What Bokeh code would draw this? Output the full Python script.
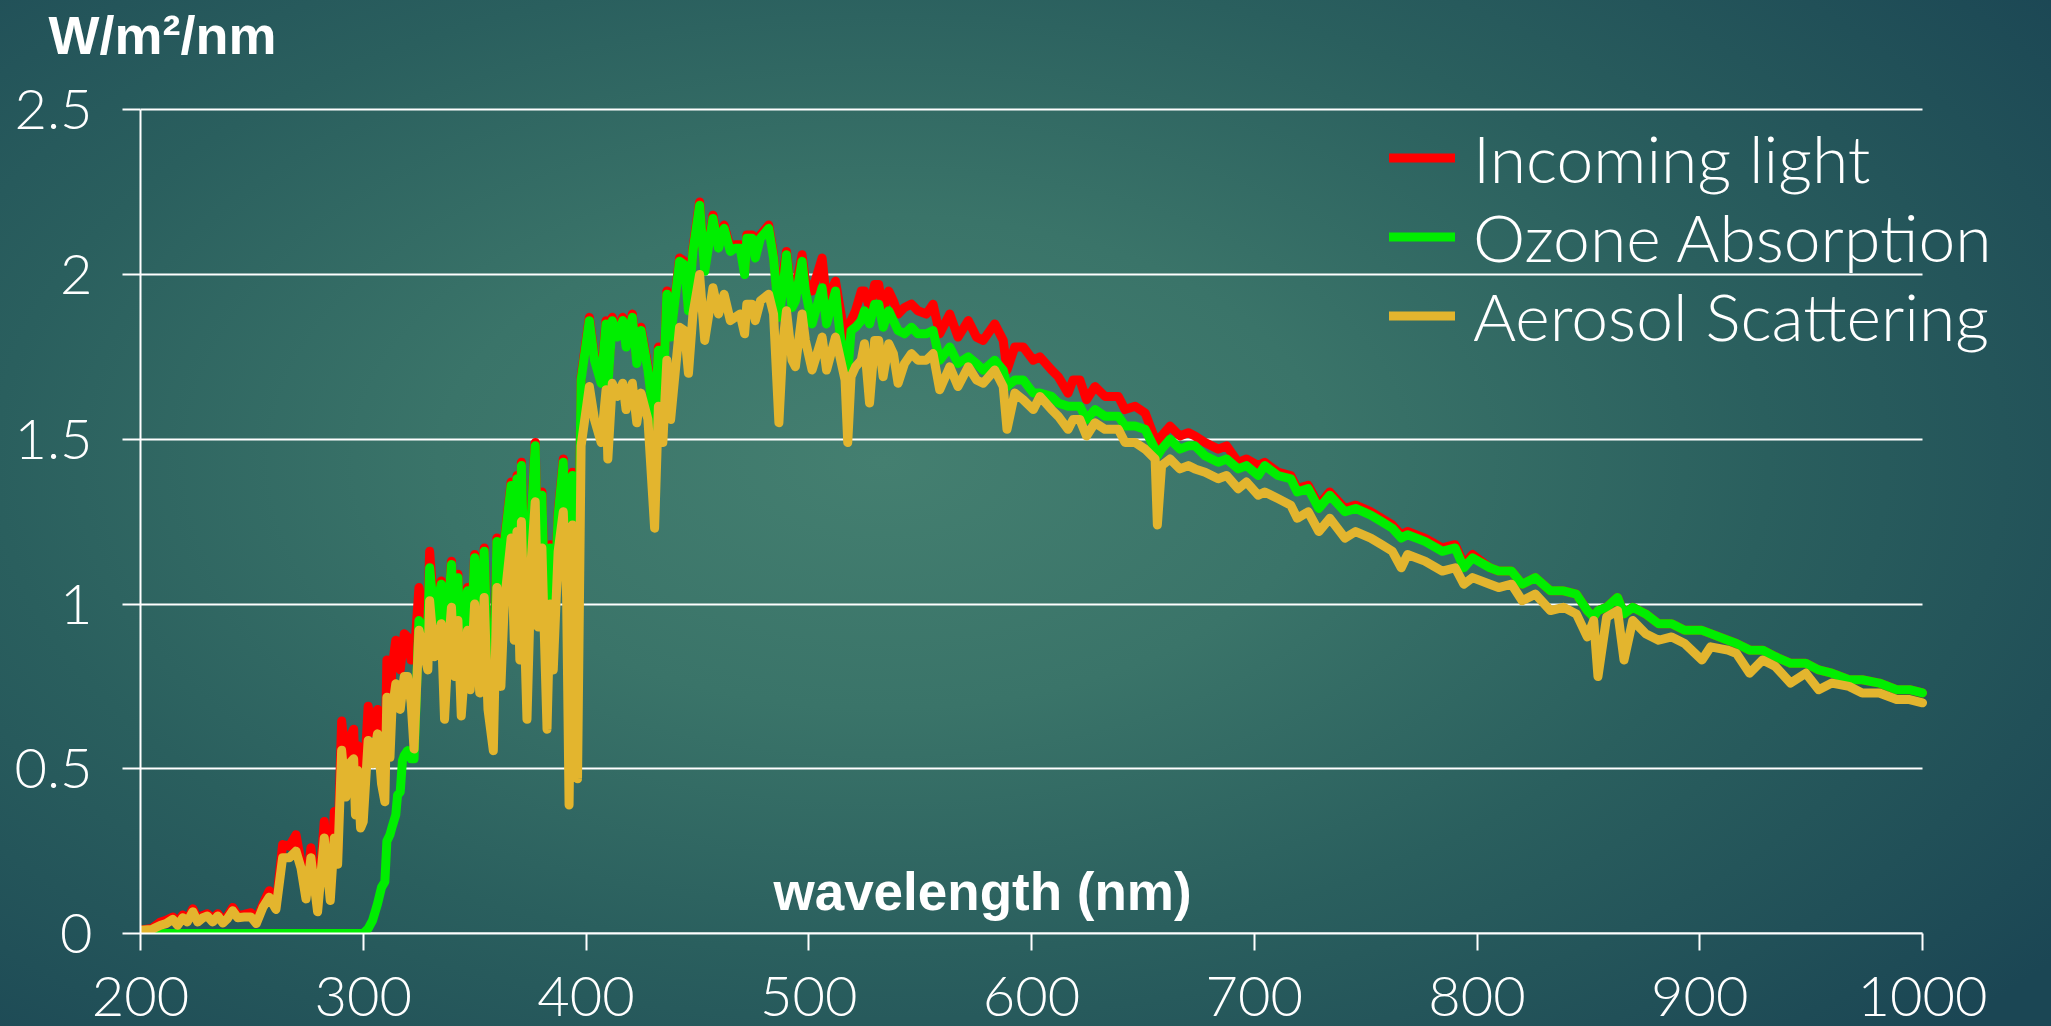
from bokeh.plotting import figure
from bokeh.models import Range1d, FixedTicker, Legend, LegendItem, Label, Title, LinearAxis
from bokeh.embed import file_html
from bokeh.resources import INLINE

# ---------------- data ----------------
wavelength = [
    200, 205, 209, 211.5, 214.5, 216.7, 219, 221, 223.5, 225.7,
    228, 230, 232.4, 234.7, 237, 239, 241.4, 243.6, 246.6, 249.6,
    252, 255, 257.8, 260.8, 263.8, 266.8, 269.8, 272, 274.3, 276.5,
    279.5, 282.5, 285.2, 287, 288.5, 290.3, 292.2, 293.7, 295.7, 296.5,
    297.5, 298.8, 300, 302.2, 304.2, 306.4, 308.2, 309.7, 310.6, 312.0,
    312.8, 314.6, 315.4, 316.6, 317.6, 318.4, 319.9, 321.5, 322.8, 325,
    327, 329, 329.8, 332, 335, 336.5, 338, 339.6, 341, 342.5,
    344, 346.8, 348, 350, 352.3, 354.3, 356, 358.4, 360, 361.8,
    363.3, 366.4, 367.8, 369, 370.3, 371, 373.5, 375.5, 377.2, 378.5,
    380.2, 382.5, 383.9, 385.3, 387.5, 389.8, 391.3, 392.4, 393.9, 396.2,
    397.8, 401.5, 403.8, 406.8, 409, 409.8, 411.8, 414, 416.5, 418,
    420.8, 422.8, 424.7, 427.8, 430.8, 432.5, 434.5, 436.3, 438, 442,
    444.2, 446, 448, 451, 453.3, 457, 459.5, 462, 464.8, 467,
    469.2, 471.2, 472.2, 474.5, 476, 478.3, 482, 484.2, 486.6, 488.5,
    490, 492.5, 494, 497, 498.5, 501.5, 506, 508, 512, 514,
    516.3, 517.5, 519, 521, 523.6, 525, 527.3, 529.6, 531.4, 533.4,
    535.9, 538, 540.1, 543, 546.1, 549, 552.8, 555.8, 558.8, 563.3,
    567, 571.6, 575.3, 578.3, 583.5, 587.3, 589, 592.5, 596.3, 600.8,
    603.8, 609, 612, 616.4, 618.7, 621.7, 624.7, 628.5, 633, 639,
    642, 646.5, 651, 655.5, 656.5, 658.4, 662.2, 666.6, 670.4, 673.4,
    677.9, 683.8, 687.6, 692.8, 696.5, 701.8, 704.7, 710.6, 716.4, 719.3,
    724.2, 729, 733.9, 740.7, 745.5, 752.3, 757.2, 762, 766, 768.8,
    776.6, 784.4, 790.2, 794.1, 798, 805.8, 809.7, 815.5, 820.3, 826.2,
    833, 838.8, 844.6, 849.5, 852.4, 854.3, 858.2, 863.1, 866, 869.9,
    875.7, 881.5, 887.4, 893.2, 901, 904.9, 912.6, 916.5, 922.4, 928.2,
    934, 940.8, 947.6, 953.4, 959.3, 967, 972.9, 980.6, 988.4, 994.2,
    1000,
]

incoming_light = [
    0.010, 0.015, 0.035, 0.040, 0.050, 0.035, 0.056, 0.040, 0.075, 0.045,
    0.055, 0.060, 0.045, 0.060, 0.040, 0.052, 0.079, 0.055, 0.058, 0.063,
    0.040, 0.090, 0.130, 0.080, 0.270, 0.265, 0.300, 0.220, 0.120, 0.260,
    0.080, 0.340, 0.120, 0.370, 0.240, 0.645, 0.525, 0.590, 0.620, 0.450,
    0.570, 0.400, 0.420, 0.690, 0.610, 0.680, 0.550, 0.480, 0.830, 0.650,
    0.800, 0.890, 0.820, 0.800, 0.860, 0.910, 0.900, 0.830, 0.830, 1.05,
    0.980, 0.950, 1.16, 0.960, 1.07, 0.760, 0.980, 1.13, 0.900, 1.09,
    0.770, 1.05, 0.860, 1.15, 0.840, 1.17, 0.790, 0.640, 1.20, 0.860,
    1.19, 1.37, 1.02, 1.39, 0.950, 1.43, 0.750, 1.28, 1.49, 1.06,
    1.34, 0.710, 1.18, 0.910, 1.28, 1.44, 1.16, 0.800, 1.40, 0.850,
    1.69, 1.87, 1.75, 1.68, 1.86, 1.67, 1.87, 1.82, 1.87, 1.79,
    1.88, 1.74, 1.84, 1.72, 1.55, 1.78, 1.62, 1.95, 1.82, 2.05,
    2.04, 1.90, 2.08, 2.22, 2.02, 2.18, 2.09, 2.15, 2.08, 2.09,
    2.09, 2.01, 2.12, 2.12, 2.06, 2.12, 2.15, 2.06, 1.88, 2.00,
    2.07, 1.92, 1.95, 2.06, 1.98, 1.95, 2.05, 1.92, 1.98, 1.90,
    1.81, 1.78, 1.86, 1.89, 1.95, 1.95, 1.90, 1.97, 1.97, 1.89,
    1.95, 1.92, 1.88, 1.90, 1.91, 1.89, 1.88, 1.91, 1.82, 1.88,
    1.81, 1.86, 1.81, 1.80, 1.85, 1.80, 1.71, 1.78, 1.78, 1.74,
    1.75, 1.71, 1.69, 1.64, 1.68, 1.68, 1.62, 1.66, 1.63, 1.63,
    1.59, 1.60, 1.58, 1.50, 1.48, 1.51, 1.54, 1.51, 1.52, 1.51,
    1.49, 1.47, 1.48, 1.43, 1.44, 1.42, 1.43, 1.40, 1.39, 1.35,
    1.36, 1.30, 1.34, 1.29, 1.30, 1.28, 1.26, 1.24, 1.21, 1.22,
    1.20, 1.17, 1.18, 1.12, 1.15, 1.11, 1.10, 1.10, 1.06, 1.08,
    1.04, 1.04, 1.03, 0.98, 0.96, 0.98, 0.99, 1.02, 0.97, 0.99,
    0.97, 0.94, 0.94, 0.92, 0.92, 0.91, 0.89, 0.88, 0.86, 0.86,
    0.84, 0.82, 0.82, 0.80, 0.79, 0.77, 0.77, 0.76, 0.74, 0.74,
    0.73,
]

ozone_absorption = [
    0, 0, 0, 0, 0, 0, 0, 0, 0, 0,
    0, 0, 0, 0, 0, 0, 0, 0, 0, 0,
    0, 0, 0, 0, 0, 0, 0, 0, 0, 0,
    0, 0, 0, 0, 0, 0, 0, 0, 0, 0,
    0, 0, 0, 0.015, 0.040, 0.090, 0.140, 0.157, 0.280, 0.300,
    0.320, 0.360, 0.420, 0.430, 0.525, 0.540, 0.555, 0.530, 0.530, 0.950,
    0.920, 0.930, 1.11, 0.950, 1.06, 0.750, 0.970, 1.12, 0.890, 1.08,
    0.760, 1.04, 0.850, 1.14, 0.830, 1.16, 0.780, 0.630, 1.19, 0.850,
    1.18, 1.36, 1.01, 1.38, 0.940, 1.42, 0.740, 1.27, 1.48, 1.05,
    1.33, 0.700, 1.17, 0.900, 1.27, 1.43, 1.15, 0.790, 1.39, 0.840,
    1.68, 1.86, 1.74, 1.67, 1.85, 1.66, 1.86, 1.81, 1.86, 1.78,
    1.87, 1.73, 1.83, 1.71, 1.54, 1.77, 1.61, 1.94, 1.81, 2.04,
    2.03, 1.89, 2.07, 2.21, 2.01, 2.17, 2.08, 2.14, 2.07, 2.08,
    2.08, 2.00, 2.11, 2.11, 2.05, 2.11, 2.14, 2.05, 1.87, 1.96,
    2.06, 1.90, 1.92, 2.04, 1.95, 1.85, 1.96, 1.85, 1.95, 1.82,
    1.72, 1.70, 1.83, 1.84, 1.86, 1.89, 1.85, 1.91, 1.91, 1.84,
    1.89, 1.86, 1.83, 1.82, 1.84, 1.82, 1.82, 1.83, 1.74, 1.78,
    1.73, 1.75, 1.73, 1.71, 1.74, 1.71, 1.66, 1.68, 1.68, 1.64,
    1.64, 1.63, 1.61, 1.60, 1.60, 1.60, 1.56, 1.59, 1.57, 1.57,
    1.54, 1.54, 1.53, 1.47, 1.45, 1.47, 1.50, 1.47, 1.48, 1.48,
    1.45, 1.43, 1.44, 1.41, 1.42, 1.39, 1.42, 1.39, 1.38, 1.34,
    1.35, 1.29, 1.33, 1.28, 1.29, 1.27, 1.25, 1.23, 1.20, 1.21,
    1.19, 1.16, 1.17, 1.11, 1.14, 1.11, 1.10, 1.10, 1.06, 1.08,
    1.04, 1.04, 1.03, 0.98, 0.96, 0.98, 0.99, 1.02, 0.97, 0.99,
    0.97, 0.94, 0.94, 0.92, 0.92, 0.91, 0.89, 0.88, 0.86, 0.86,
    0.84, 0.82, 0.82, 0.80, 0.79, 0.77, 0.77, 0.76, 0.74, 0.74,
    0.73,
]

aerosol_scattering = [
    0.010, 0.012, 0.025, 0.030, 0.043, 0.025, 0.048, 0.035, 0.066, 0.035,
    0.048, 0.053, 0.035, 0.053, 0.032, 0.045, 0.069, 0.048, 0.050, 0.050,
    0.030, 0.080, 0.110, 0.073, 0.230, 0.230, 0.250, 0.200, 0.105, 0.230,
    0.066, 0.290, 0.100, 0.290, 0.210, 0.556, 0.414, 0.515, 0.530, 0.360,
    0.495, 0.320, 0.340, 0.586, 0.515, 0.606, 0.455, 0.400, 0.717, 0.535,
    0.667, 0.758, 0.700, 0.680, 0.740, 0.780, 0.780, 0.700, 0.560, 0.920,
    0.860, 0.800, 1.01, 0.840, 0.940, 0.650, 0.850, 0.990, 0.780, 0.950,
    0.660, 0.920, 0.740, 1.00, 0.730, 1.02, 0.680, 0.555, 1.05, 0.750,
    1.00, 1.20, 0.890, 1.22, 0.830, 1.25, 0.650, 1.14, 1.31, 0.930,
    1.17, 0.620, 1.00, 0.800, 1.16, 1.28, 1.02, 0.390, 1.24, 0.470,
    1.48, 1.66, 1.56, 1.49, 1.65, 1.44, 1.67, 1.63, 1.67, 1.59,
    1.67, 1.55, 1.64, 1.56, 1.23, 1.60, 1.49, 1.74, 1.56, 1.84,
    1.83, 1.70, 1.88, 2.00, 1.80, 1.96, 1.88, 1.94, 1.86, 1.87,
    1.88, 1.82, 1.91, 1.91, 1.86, 1.92, 1.94, 1.88, 1.55, 1.80,
    1.89, 1.74, 1.72, 1.88, 1.80, 1.71, 1.81, 1.71, 1.81, 1.75,
    1.68, 1.49, 1.69, 1.72, 1.74, 1.79, 1.61, 1.80, 1.80, 1.69,
    1.79, 1.76, 1.67, 1.73, 1.76, 1.74, 1.74, 1.76, 1.65, 1.72,
    1.66, 1.72, 1.68, 1.67, 1.71, 1.66, 1.53, 1.64, 1.62, 1.59,
    1.63, 1.59, 1.57, 1.53, 1.56, 1.56, 1.51, 1.55, 1.53, 1.53,
    1.49, 1.49, 1.47, 1.44, 1.24, 1.42, 1.44, 1.41, 1.42, 1.41,
    1.40, 1.38, 1.39, 1.35, 1.37, 1.33, 1.34, 1.32, 1.30, 1.26,
    1.28, 1.22, 1.26, 1.20, 1.22, 1.20, 1.18, 1.16, 1.11, 1.15,
    1.13, 1.10, 1.11, 1.06, 1.08, 1.06, 1.05, 1.06, 1.01, 1.03,
    0.98, 0.99, 0.97, 0.90, 0.95, 0.78, 0.96, 0.98, 0.83, 0.95,
    0.91, 0.89, 0.90, 0.88, 0.83, 0.87, 0.86, 0.85, 0.79, 0.83,
    0.81, 0.76, 0.79, 0.74, 0.76, 0.75, 0.73, 0.73, 0.71, 0.71,
    0.70,
]

x_ticks = [200, 300, 400, 500, 600, 700, 800, 900, 1000]
y_ticks = [0, 0.5, 1, 1.5, 2, 2.5]
series_names = ["Incoming light", "Ozone Absorption", "Aerosol Scattering"]
series_colors = ["#ff0000", "#00ee00", "#e3b52e"]
y_title = "W/m\u00b2/nm"
x_title = "wavelength (nm)"

# ---------------- layout constants (pixels) ----------------
W, H = 2051, 1026
LEFT, TOP, BOTTOM = 140, 65, 93
PX_PER_NM = 2.2275
PX_PER_UNIT = 329.5
frame_w = W - LEFT
frame_h = H - TOP - BOTTOM
x_end = x_ticks[0] + frame_w / PX_PER_NM
y_end = frame_h / PX_PER_UNIT
grid_len = int(round((x_ticks[-1] - x_ticks[0]) * PX_PER_NM))

p = figure(
    width=W, height=H,
    x_range=Range1d(x_ticks[0], x_end), y_range=Range1d(0, y_end),
    output_backend="svg", toolbar_location=None,
    min_border_left=LEFT, min_border_right=0,
    min_border_top=TOP, min_border_bottom=BOTTOM,
)
p.styles = {
    "background": "radial-gradient(ellipse 72% 80% at 43% 45%, #447f70 0%, #3a7469 30%, #2a5f5e 60%, #1b4654 100%)"
}
p.background_fill_alpha = 0
p.border_fill_alpha = 0
p.outline_line_color = None

p.title = Title(
    text=y_title, align="left", offset=48 - LEFT, standoff=2,
    text_font="Liberation Sans", text_font_style="bold", text_font_size="54px",
    text_color="white",
)

tick_font = "Lato Light"

for ax in (p.xaxis[0], p.yaxis[0]):
    ax.axis_line_color = "white"
    ax.axis_line_width = 2
    ax.major_tick_line_color = "white"
    ax.major_tick_line_width = 2
    ax.major_tick_in = 0
    ax.minor_tick_line_color = None
    ax.major_label_text_color = "white"
    ax.major_label_text_font = tick_font
    ax.major_label_text_font_size = "56px"

p.xaxis.ticker = FixedTicker(ticks=x_ticks)
p.yaxis.ticker = FixedTicker(ticks=y_ticks)
p.xaxis.bounds = (x_ticks[0], x_ticks[-1])
p.yaxis.bounds = (y_ticks[0], y_ticks[-1])
p.yaxis.major_label_overrides = {0: "0", 1: "1", 2: "2"}
p.xaxis.major_tick_out = 17
p.yaxis.major_tick_out = 18
p.xaxis.major_label_standoff = 26
p.yaxis.major_label_standoff = 30

p.xgrid.grid_line_color = None
p.ygrid.grid_line_color = None

# horizontal grid lines: an unlabeled axis whose inner ticks span 200..1000 nm,
# drawn beneath the data lines
grid_axis = LinearAxis(
    ticker=FixedTicker(ticks=y_ticks), fixed_location=x_ticks[0],
    level="underlay", axis_line_color=None, minor_tick_line_color=None,
    major_tick_in=grid_len, major_tick_out=0,
    major_tick_line_color="white", major_tick_line_width=2,
    major_label_text_color=None, major_label_text_alpha=0,
    major_label_text_font_size="1px", major_label_standoff=0,
)
p.add_layout(grid_axis, "left")

renderers = []
for vals, col in zip([incoming_light, ozone_absorption, aerosol_scattering], series_colors):
    r = p.line(wavelength, vals, line_color=col, line_width=9,
               line_join="round", line_cap="round")
    renderers.append(r)

legend = Legend(
    items=[LegendItem(label=n, renderers=[r]) for n, r in zip(series_names, renderers)],
    location=(1249, 578),
    orientation="vertical",
    glyph_width=66, glyph_height=79, label_height=79,
    label_standoff=18, spacing=0, padding=0, margin=0,
    background_fill_alpha=0, border_line_color=None,
    label_text_color="white", label_text_font=tick_font,
    label_text_font_size="66px",
)
p.add_layout(legend)

p.add_layout(Label(
    x=842, y=42, x_units="screen", y_units="screen", text=x_title,
    text_font="Liberation Sans", text_font_style="bold", text_font_size="53px",
    text_color="white", text_align="center", text_baseline="alphabetic",
))

open("out.html", "w").write(file_html(p, INLINE))
